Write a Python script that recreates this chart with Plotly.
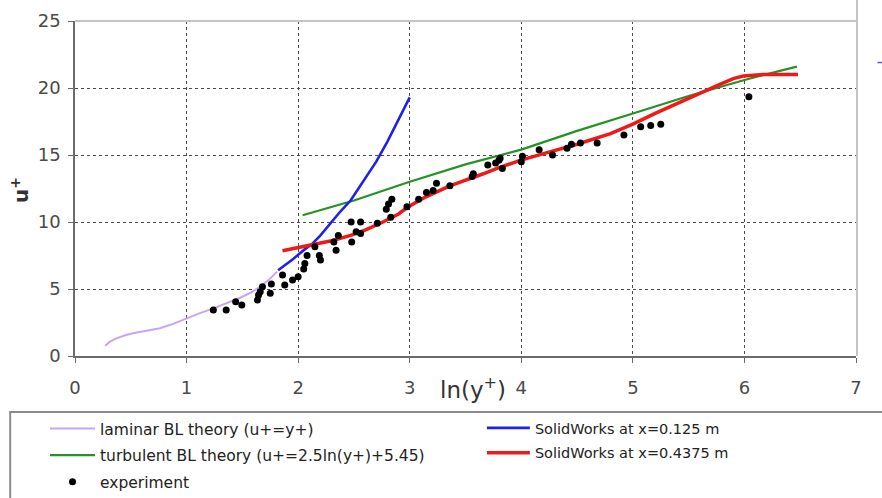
import plotly.graph_objects as go

# Laminar sublayer theory curve (u+ = y+), read along ln(y+)
lam_x = [0.27, 0.31, 0.37, 0.45, 0.52, 0.62, 0.76, 0.88, 1.0, 1.12, 1.24, 1.36, 1.48, 1.58, 1.66, 1.74, 1.81]
lam_u = [0.77, 1.05, 1.32, 1.55, 1.69, 1.86, 2.07, 2.4, 2.81, 3.2, 3.55, 3.95, 4.35, 4.75, 5.17, 5.7, 6.3]

# Turbulent log-law theory (u+ = 2.5 ln(y+) + 5.45)
turb_x = [2.04, 2.5, 3.0, 3.5, 4.0, 4.5, 5.0, 5.5, 6.0, 6.47]
turb_u = [10.5, 11.6, 13.0, 14.3, 15.4, 16.8, 18.1, 19.4, 20.6, 21.6]

# SolidWorks profile at x = 0.125 m
sw1_x = [1.82, 1.95, 2.05, 2.13, 2.2, 2.29, 2.38, 2.47, 2.6, 2.7, 2.8, 2.9, 3.0]
sw1_u = [6.4, 7.2, 7.9, 8.4, 9.0, 9.9, 10.8, 11.6, 13.2, 14.5, 16.0, 17.6, 19.3]

# SolidWorks profile at x = 0.4375 m
sw2_x = [1.86, 2.0, 2.17, 2.3, 2.47, 2.6, 2.76, 2.9, 2.98, 3.15, 3.36, 3.5, 3.66, 3.8, 3.99,
         4.2, 4.5, 4.8, 5.0, 5.2, 5.45, 5.6, 5.76, 5.9, 5.99, 6.1, 6.17, 6.3, 6.48]
sw2_u = [7.85, 8.1, 8.4, 8.6, 9.0, 9.4, 10.0, 10.6, 11.1, 11.9, 12.7, 13.1, 13.6, 14.05, 14.6,
         15.1, 15.8, 16.6, 17.3, 18.1, 19.0, 19.6, 20.2, 20.7, 20.9, 21.0, 21.0, 21.0, 21.0]

# Measured velocity profile
exp_x = [1.24, 1.355, 1.44, 1.495, 1.635, 1.645, 1.66, 1.68, 1.75, 1.76, 1.86, 1.88, 1.95, 2.0,
         2.05, 2.06, 2.08, 2.15, 2.19, 2.2, 2.32, 2.34, 2.36, 2.475, 2.48, 2.52, 2.56, 2.56,
         2.71, 2.79, 2.81, 2.83, 2.84, 2.975, 3.08, 3.15, 3.21, 3.24, 3.36, 3.56, 3.57, 3.70,
         3.77, 3.80, 3.81, 3.83, 4.0, 4.01, 4.16, 4.28, 4.41, 4.45, 4.53, 4.68, 4.92, 5.07,
         5.16, 5.25, 6.04]
exp_u = [3.43, 3.43, 4.05, 3.8, 4.18, 4.55, 4.8, 5.17, 4.68, 5.37, 6.04, 5.3, 5.67, 5.92,
         6.5, 6.9, 7.5, 8.16, 7.5, 7.16, 8.5, 7.9, 9.0, 10.0, 8.5, 9.27, 10.0, 9.15,
         9.9, 10.95, 11.34, 10.35, 11.7, 11.14, 11.7, 12.2, 12.35, 12.9, 12.7, 13.4, 13.6, 14.25,
         14.4, 14.6, 14.75, 14.0, 14.5, 14.9, 15.4, 15.0, 15.5, 15.8, 15.9, 15.9, 16.5, 17.1,
         17.2, 17.3, 19.35]

x_ticks = [0, 1, 2, 3, 4, 5, 6, 7]
y_ticks = [0, 5, 10, 15, 20, 25]

FONT = "DejaVu Sans, Liberation Sans, Arial, sans-serif"

fig = go.Figure()
fig.add_trace(go.Scatter(x=lam_x, y=lam_u, mode="lines", name="laminar BL theory (u+=y+)",
                         line=dict(color="#c6a6f2", width=2), legend="legend",
                         legendgroup="a", legendrank=1))
fig.add_trace(go.Scatter(x=turb_x, y=turb_u, mode="lines", name="turbulent BL theory (u+=2.5ln(y+)+5.45)",
                         line=dict(color="#259225", width=2.2), legend="legend",
                         legendgroup="b", legendrank=2))
fig.add_trace(go.Scatter(x=sw1_x, y=sw1_u, mode="lines", name="SolidWorks at x=0.125 m",
                         line=dict(color="#1f22e6", width=2.6), legend="legend2",
                         legendgroup="d", legendrank=4))
fig.add_trace(go.Scatter(x=sw2_x, y=sw2_u, mode="lines", name="SolidWorks at x=0.4375 m",
                         line=dict(color="#ee1a1a", width=3.5), legend="legend2",
                         legendgroup="e", legendrank=5))
fig.add_trace(go.Scatter(x=exp_x, y=exp_u, mode="markers", name="experiment",
                         marker=dict(color="#000000", size=7), legend="legend",
                         legendgroup="c", legendrank=3))

axis_common = dict(
    showline=True, linecolor="#6a6a6a", linewidth=1.5,
    ticks="outside", ticklen=5, tickcolor="#6a6a6a", tickwidth=1.2,
    showgrid=True, gridcolor="#4a4a4a", griddash="dot", gridwidth=1.3,
    zeroline=False, tickfont=dict(family=FONT, size=18, color="#4a4a4a"),
)

fig.update_layout(
    width=882, height=498,
    margin=dict(l=75, r=26, t=21, b=142, autoexpand=False),
    paper_bgcolor="white", plot_bgcolor="white",
    font=dict(family=FONT, color="#222222"),
    xaxis=dict(range=[0, 7], tickvals=x_ticks, ticklabelstandoff=10, **axis_common),
    yaxis=dict(range=[0, 25], tickvals=y_ticks, ticklabelstandoff=4, **axis_common),
    showlegend=True,
    legend=dict(x=-0.0384, y=-0.167, xanchor="left", yanchor="top",
                orientation="v", traceorder="grouped", tracegroupgap=3.5,
                itemwidth=45, bgcolor="rgba(0,0,0,0)", borderwidth=0,
                font=dict(family=FONT, size=15.5, color="#222222")),
    legend2=dict(x=0.521, y=-0.167, xanchor="left", yanchor="top",
                 orientation="v", traceorder="grouped", tracegroupgap=3,
                 itemwidth=43, bgcolor="rgba(0,0,0,0)", borderwidth=0,
                 font=dict(family=FONT, size=14.5, color="#222222")),
)

# light frame on the top and right of the plot area, and the box round the legend
fig.add_shape(type="line", xref="paper", yref="paper", x0=0, x1=1, y0=1, y1=1,
              line=dict(color="#c4c4c4", width=2), layer="above")
fig.add_shape(type="line", xref="paper", yref="paper", x0=1.0013, x1=1.0013, y0=0, y1=1.07,
              line=dict(color="#c4c4c4", width=2), layer="above")
fig.add_shape(type="rect", xref="paper", yref="paper", x0=-0.083, x1=1.05, y0=-0.167, y1=-0.45,
              line=dict(color="#8c8c8c", width=2), fillcolor="rgba(0,0,0,0)", layer="above")
fig.add_shape(type="line", xref="paper", yref="paper", x0=1.0275, x1=1.034, y0=0.876, y1=0.876,
              line=dict(color="#5a5ad0", width=1.5), layer="above")

fig.add_annotation(text="ln(y<sup>+</sup>)", xref="paper", yref="paper", x=0.5096, y=-0.0955,
                   xanchor="center", yanchor="middle", showarrow=False,
                   font=dict(family=FONT, size=23, color="#333333"))
fig.add_annotation(text="<b>u<sup>+</sup></b>", xref="paper", yref="paper", x=-0.0704, y=0.4955,
                   xanchor="center", yanchor="middle", textangle=-90, showarrow=False,
                   font=dict(family=FONT, size=20, color="#333333"))

fig.write_html("out.html")
